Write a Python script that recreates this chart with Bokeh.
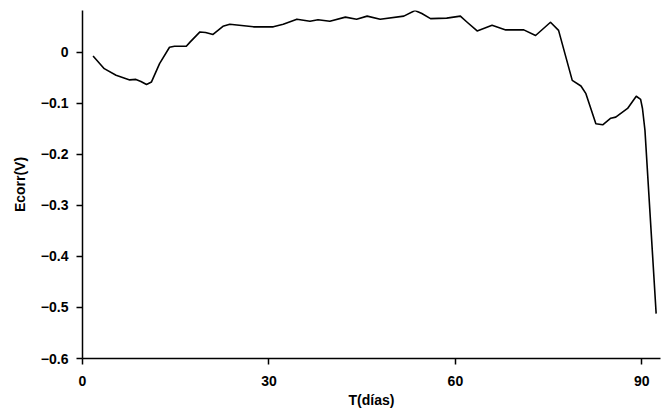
from bokeh.plotting import figure
from bokeh.models import Range1d, FixedTicker
from bokeh.embed import file_html
from bokeh.resources import INLINE

t_days = [1.7, 3.5, 5.4, 7.6, 8.6, 9.4, 10.3, 11.1, 12.4, 14.0, 14.8, 16.7, 17.3, 18.9, 19.8,
          21.0, 22.6, 23.7, 27.5, 30.7, 32.3, 34.5, 36.6, 37.9, 39.8, 42.3, 44.1, 45.8, 47.9,
          51.7, 53.5, 54.6, 56.0, 58.6, 60.8, 61.8, 63.5, 65.9, 68.1, 71.0, 72.9, 75.3, 76.6,
          77.7, 78.8, 80.2, 81.0, 82.6, 83.7, 85.0, 85.8, 87.7, 89.1, 89.8, 90.1, 90.5, 92.3]
ecorr = [-0.007, -0.032, -0.045, -0.054, -0.053, -0.057, -0.063, -0.058, -0.022, 0.010,
         0.012, 0.012, 0.020, 0.040, 0.039, 0.035, 0.051, 0.055, 0.050, 0.050, 0.055, 0.065,
         0.061, 0.064, 0.061, 0.069, 0.065, 0.071, 0.065, 0.071, 0.082, 0.076, 0.066, 0.067,
         0.071, 0.060, 0.042, 0.053, 0.044, 0.044, 0.033, 0.059, 0.043, -0.006, -0.055,
         -0.066, -0.081, -0.140, -0.142, -0.129, -0.127, -0.110, -0.086, -0.092, -0.110,
         -0.153, -0.512]

x_ticks = [0, 30, 60, 90]
y_ticks = [-0.6, -0.5, -0.4, -0.3, -0.2, -0.1, 0]
y_tick_labels = {-0.6: "\u22120.6", -0.5: "\u22120.5", -0.4: "\u22120.4", -0.3: "\u22120.3",
                 -0.2: "\u22120.2", -0.1: "\u22120.1", 0: "0"}

p = figure(width=665, height=414, output_backend="svg", toolbar_location=None,
           x_range=Range1d(0, 93), y_range=Range1d(-0.6, 0.082),
           min_border_left=82, min_border_right=5, min_border_top=10, min_border_bottom=56)
p.outline_line_color = None
p.xgrid.visible = False
p.ygrid.visible = False

p.line(t_days, ecorr, line_color="black", line_width=1.6, line_join="round")

FONT = "Liberation Sans"
for ax in (p.xaxis[0], p.yaxis[0]):
    ax.axis_line_width = 1.5
    ax.axis_line_color = "black"
    ax.major_tick_line_width = 1.5
    ax.major_tick_line_color = "black"
    ax.major_tick_out = 6
    ax.major_tick_in = 0
    ax.minor_tick_line_color = None
    ax.major_label_text_font = FONT
    ax.major_label_text_font_style = "bold"
    ax.major_label_text_font_size = "14px"
    ax.major_label_text_color = "black"
    ax.axis_label_text_font = FONT
    ax.axis_label_text_font_style = "bold"
    ax.axis_label_text_font_size = "14px"
    ax.axis_label_text_color = "black"

p.xaxis[0].ticker = FixedTicker(ticks=x_ticks)
p.yaxis[0].ticker = FixedTicker(ticks=y_ticks)
p.yaxis[0].major_label_overrides = y_tick_labels
p.xaxis[0].axis_label = "T(días)"
p.yaxis[0].axis_label = "Ecorr(V)"
p.xaxis[0].major_label_standoff = 11
p.xaxis[0].axis_label_standoff = 3
p.yaxis[0].major_label_standoff = 8
p.yaxis[0].axis_label_standoff = 10

open("out.html", "w").write(file_html(p, INLINE))
